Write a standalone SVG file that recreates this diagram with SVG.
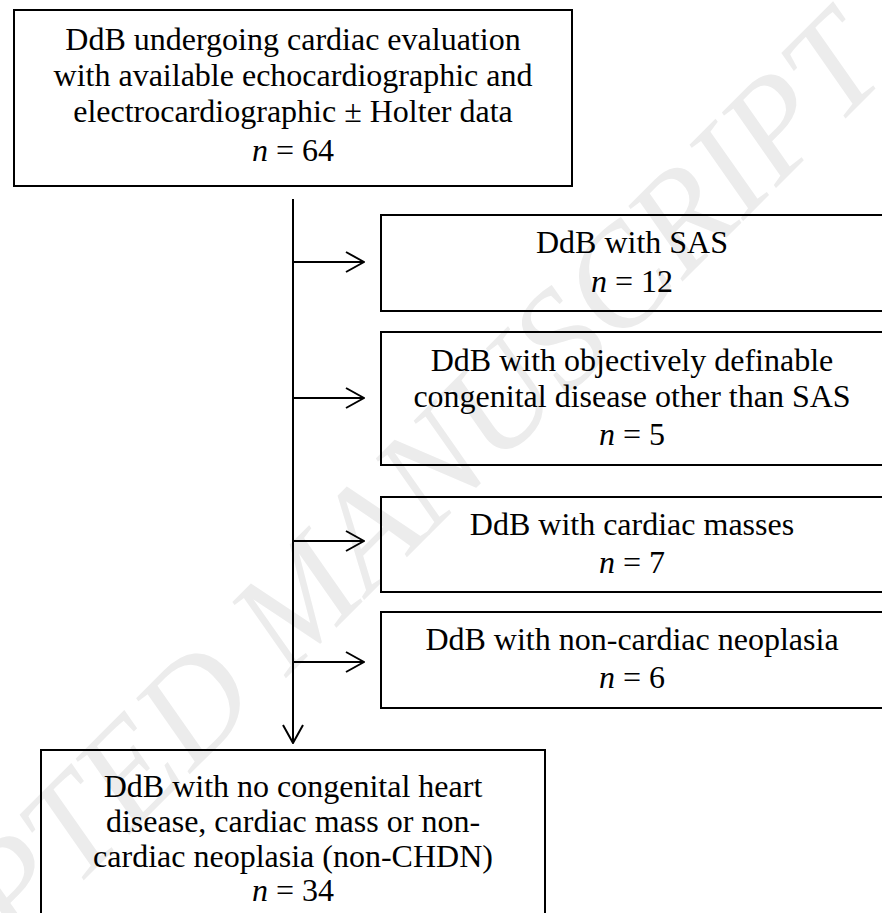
<svg xmlns="http://www.w3.org/2000/svg" width="882" height="913" viewBox="0 0 882 913">
<style>
  .box { fill: none; stroke: #000; stroke-width: 2; }
  .t { font-family: "Liberation Serif", "Times New Roman", serif; font-size: 32px; fill: #000; text-anchor: middle; }
  .n { font-style: italic; }
  .conn { fill: none; stroke: #000; stroke-width: 2; }
  .wm { font-family: "Liberation Serif", "Times New Roman", serif; font-style: italic; font-size: 140px; fill: #ececec; text-anchor: end; }
</style>
<defs>
  <marker id="arr" viewBox="0 0 20 22" markerWidth="20" markerHeight="22" refX="19" refY="11" orient="auto" markerUnits="userSpaceOnUse">
    <path d="M1,1 L19,11 L1,21" fill="none" stroke="#000" stroke-width="2"/>
  </marker>
</defs>
<rect width="882" height="913" fill="#fff"/>
<text class="wm" transform="translate(892,72) rotate(-45)">ACCEPTED MANUSCRIPT</text>

<g id="connectors">
  <line class="conn" x1="293" y1="199" x2="293" y2="743" marker-end="url(#arr)"/>
  <line class="conn" x1="293" y1="262" x2="364" y2="262" marker-end="url(#arr)"/>
  <line class="conn" x1="293" y1="398" x2="364" y2="398" marker-end="url(#arr)"/>
  <line class="conn" x1="293" y1="541" x2="364" y2="541" marker-end="url(#arr)"/>
  <line class="conn" x1="293" y1="662" x2="364" y2="662" marker-end="url(#arr)"/>
</g>

<g id="start">
  <rect class="box" x="14" y="10" width="558" height="176"/>
  <text class="t" x="293" y="50">DdB undergoing cardiac evaluation</text>
  <text class="t" x="293" y="86">with available echocardiographic and</text>
  <text class="t" x="293" y="122">electrocardiographic ± Holter data</text>
  <text class="t" x="293" y="161"><tspan class="n">n</tspan> = 64</text>
</g>

<g id="sas">
  <rect class="box" x="381" y="215" width="502" height="96"/>
  <text class="t" x="632" y="253">DdB with SAS</text>
  <text class="t" x="632" y="292"><tspan class="n">n</tspan> = 12</text>
</g>

<g id="other-congenital">
  <rect class="box" x="381" y="332" width="502" height="133"/>
  <text class="t" x="632" y="371">DdB with objectively definable</text>
  <text class="t" x="632" y="407">congenital disease other than SAS</text>
  <text class="t" x="632" y="445"><tspan class="n">n</tspan> = 5</text>
</g>

<g id="masses">
  <rect class="box" x="381" y="497" width="502" height="95"/>
  <text class="t" x="632" y="535">DdB with cardiac masses</text>
  <text class="t" x="632" y="573"><tspan class="n">n</tspan> = 7</text>
</g>

<g id="neoplasia">
  <rect class="box" x="381" y="612" width="502" height="96"/>
  <text class="t" x="632" y="650">DdB with non-cardiac neoplasia</text>
  <text class="t" x="632" y="688"><tspan class="n">n</tspan> = 6</text>
</g>

<g id="non-chdn">
  <rect class="box" x="41" y="750" width="504" height="200"/>
  <text class="t" x="293" y="797">DdB with no congenital heart</text>
  <text class="t" x="293" y="832">disease, cardiac mass or non-</text>
  <text class="t" x="293" y="867">cardiac neoplasia (non-CHDN)</text>
  <text class="t" x="293" y="901"><tspan class="n">n</tspan> = 34</text>
</g>
</svg>
